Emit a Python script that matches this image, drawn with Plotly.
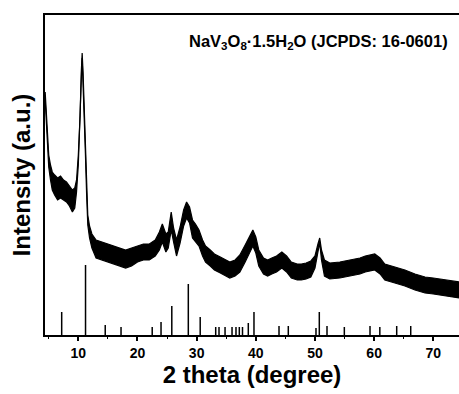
import plotly.graph_objects as go

# Measured XRD pattern (2 theta in degrees), upper / lower edges of the noisy trace (a.u.)
two_theta = [4.4, 4.6, 4.8, 5.0, 5.3, 5.6, 6.0, 6.5, 7.0, 7.5, 8.0, 8.5, 9.0, 9.4, 9.7,
             10.0, 10.3, 10.5, 10.65, 10.8, 11.0, 11.2, 11.4, 11.6, 11.9, 12.3, 13, 14, 15,
             16, 17, 18, 19, 20, 21, 22, 23, 23.7, 24.2, 24.8, 25.2, 25.7, 26.1, 26.6, 27.2,
             27.8, 28.3, 28.8, 29.3, 29.8, 30.4, 31.0, 31.5, 32.3, 33, 34, 35, 35.6, 36.5,
             37.3, 38.2, 39.0, 39.5, 40.0, 40.5, 41.3, 42.0, 42.7, 43.5, 44.4, 45.2, 46, 47,
             47.7, 48.5, 49.3, 50.0, 50.5, 50.8, 51.1, 51.6, 52.5, 54.2, 55.9, 57.6, 58.5,
             59.3, 60.1, 61.0, 61.8, 63.5, 65.2, 66.9, 68.6, 70, 71.1, 72.5, 73.7, 74.4]
intensity_hi = [243, 220, 195, 180, 170, 163, 160, 157, 159, 155, 153, 149, 145, 147, 155,
                180, 219, 263, 282, 263, 229, 189, 149, 120, 109, 101, 95, 93, 91,
                89, 87, 85, 87, 89, 91, 91, 95, 103, 111, 101, 103, 123, 107, 95, 108,
                125, 133, 128, 115, 111, 105, 95, 89, 85, 81, 78, 75, 73, 75,
                80, 90, 99, 105, 98, 85, 77, 75, 77, 79, 83, 79, 73, 71,
                71, 72, 74, 79, 91, 97, 85, 75, 72, 73, 75, 77, 79,
                80, 81, 77, 71, 68, 65, 61, 58, 57, 56, 55, 54, 53]
intensity_lo = [235, 210, 185, 168, 155, 145, 140, 135, 137, 135, 133, 129, 123, 127, 143,
                170, 211, 255, 277, 255, 221, 181, 141, 110, 97, 87, 77, 75, 73,
                71, 69, 67, 69, 73, 75, 75, 79, 85, 93, 83, 87, 105, 93, 79, 92,
                109, 117, 112, 97, 93, 89, 79, 73, 69, 65, 62, 59, 57, 59,
                63, 73, 83, 89, 82, 69, 61, 59, 61, 63, 67, 63, 57, 55,
                55, 56, 58, 67, 83, 92, 75, 59, 56, 57, 59, 61, 63,
                64, 65, 61, 55, 52, 49, 45, 42, 41, 40, 39, 38, 37]

# JCPDS 16-0601 reference lines
ref_pos = [7.19, 11.22, 14.55, 17.22, 22.49, 23.98, 25.80, 28.59, 30.60, 33.22, 33.78,
           34.80, 35.98, 36.65, 37.21, 37.75, 38.73, 39.69, 43.92, 45.49, 50.17, 50.73,
           52.03, 54.96, 59.30, 60.96, 63.81, 66.18]
ref_int = [23, 70, 10, 8, 8, 13, 29, 51, 18, 8, 8,
           8, 8, 8, 8, 8, 12, 23, 9, 9, 7, 23,
           9, 8, 9, 8, 9, 9]

stick_x, stick_y = [], []
for p, h in zip(ref_pos, ref_int):
    stick_x += [p, p, None]
    stick_y += [0, h, None]

fig = go.Figure()
fig.add_trace(go.Scatter(x=two_theta, y=intensity_lo, mode="lines",
                         line=dict(color="black", width=1.2), showlegend=False))
fig.add_trace(go.Scatter(x=two_theta, y=intensity_hi, mode="lines", fill="tonexty",
                         fillcolor="black", line=dict(color="black", width=1.2),
                         showlegend=False))
fig.add_trace(go.Scatter(x=stick_x, y=stick_y, mode="lines",
                         line=dict(color="black", width=1.5), showlegend=False))

font = "Liberation Sans, Arial, sans-serif"
fig.add_annotation(text="<b>NaV<sub>3</sub>O<sub>8</sub>·1.5H<sub>2</sub>O (JCPDS: 16-0601)</b>",
                   xref="paper", yref="paper", x=0.978, y=0.915, xanchor="right",
                   yanchor="middle", showarrow=False,
                   font=dict(family=font, size=16.5, color="black"))

fig.update_layout(
    width=459, height=394,
    margin=dict(l=45, r=0, t=15, b=59),
    paper_bgcolor="white", plot_bgcolor="white",
    font=dict(family=font, color="black"),
    xaxis=dict(range=[4.37, 74.34], showline=True, linecolor="black", linewidth=1.5,
               mirror=True, ticks="outside", ticklen=4, tickwidth=1.5, tickcolor="black",
               tick0=0, dtick=10, showgrid=False, zeroline=False,
               tickfont=dict(family=font, size=14, color="black", weight="bold"),
               minor=dict(ticks="outside", ticklen=2, tickwidth=1.2, dtick=5,
                          tickcolor="black", showgrid=False),
               title=dict(text="<b>2 theta (degree)</b>", standoff=4,
                          font=dict(family=font, size=24, color="black"))),
    yaxis=dict(range=[0, 320], showline=True, linecolor="black", linewidth=1.5,
               mirror=False, showticklabels=False, ticks="", showgrid=False,
               zeroline=False,
               title=dict(text="<b>Intensity (a.u.)</b>", standoff=6,
                          font=dict(family=font, size=24, color="black"))),
)

fig.write_html("out.html")
